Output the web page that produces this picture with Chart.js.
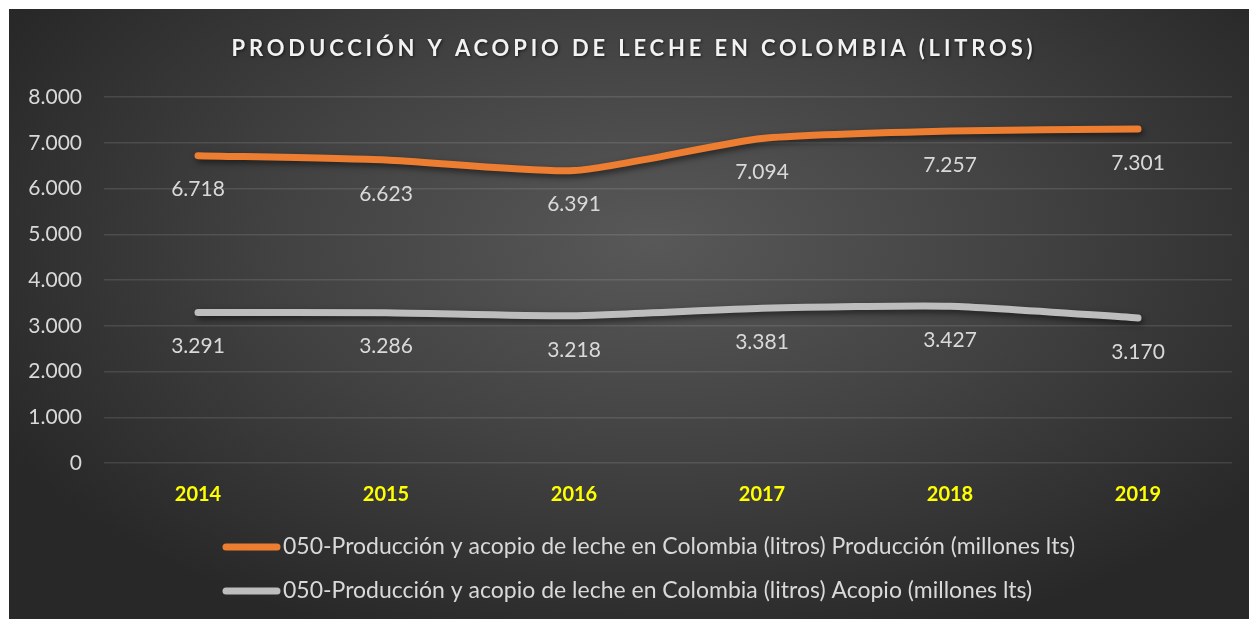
<!DOCTYPE html>
<html>
<head>
<meta charset="utf-8">
<script src="https://cdn.jsdelivr.net/npm/chart.js@4.4.0/dist/chart.umd.min.js"></script>
<style>
  html, body { margin: 0; padding: 0; background: #ffffff; }
  #wrap {
    position: absolute; left: 9px; top: 9px; width: 1240px; height: 610px;
    background: radial-gradient(ellipse 60% 70% at 52% 38%, #585858 0%, #424242 50%, #282828 100%);
  }
</style>
</head>
<body>
<div id="wrap"><canvas id="milkChart"></canvas></div>
<script>
// data
const years = ['2014', '2015', '2016', '2017', '2018', '2019'];
const produccion = [6718, 6623, 6391, 7094, 7257, 7301];
const acopio = [3291, 3286, 3218, 3381, 3427, 3170];
const seriesNames = [
    '050-Producción y acopio de leche en Colombia (litros) Producción (millones lts)',
    '050-Producción y acopio de leche en Colombia (litros) Acopio (millones lts)'
];
const chartTitle = 'PRODUCCIÓN Y ACOPIO DE LECHE EN COLOMBIA (LITROS)';

const FONT = 'Lato, "Noto Sans", sans-serif';
const TEXT_COLOR = '#d9d9d9';

// 7.094 style thousands separator
function fmt(v) {
    return String(v).replace(/\B(?=(\d{3})+(?!\d))/g, '.');
}

// line shadow
const shadowPlugin = {
    id: 'lineShadow',
    beforeDatasetDraw(chart) {
        const ctx = chart.ctx;
        ctx.save();
        ctx.shadowColor = 'rgba(0,0,0,0.55)';
        ctx.shadowBlur = 6;
        ctx.shadowOffsetX = 2;
        ctx.shadowOffsetY = 3;
    },
    afterDatasetDraw(chart) {
        chart.ctx.restore();
    }
};

// values under each point
const valueLabels = {
    id: 'valueLabels',
    afterDatasetsDraw(chart) {
        const ctx = chart.ctx;
        ctx.save();
        ctx.font = '21px ' + FONT;
        ctx.fillStyle = TEXT_COLOR;
        ctx.textAlign = 'center';
        ctx.textBaseline = 'middle';
        chart.data.datasets.forEach((ds, i) => {
            chart.getDatasetMeta(i).data.forEach((pt, j) => {
                ctx.fillText(fmt(ds.data[j]), pt.x, pt.y + 34);
            });
        });
        ctx.restore();
    }
};

// title with letter spacing
const spacedTitle = {
    id: 'spacedTitle',
    afterDraw(chart) {
        const ctx = chart.ctx;
        ctx.save();
        ctx.font = 'bold 22px ' + FONT;
        ctx.letterSpacing = '3.85px';
        ctx.fillStyle = '#f2f2f2';
        ctx.textAlign = 'center';
        ctx.textBaseline = 'middle';
        ctx.shadowColor = 'rgba(0,0,0,0.6)';
        ctx.shadowBlur = 3;
        ctx.shadowOffsetX = 1;
        ctx.shadowOffsetY = 1;
        ctx.fillText(chartTitle, chart.width / 2 + 5, 40);
        ctx.restore();
    }
};

// two-row legend, both rows starting at the same x
const rowLegend = {
    id: 'rowLegend',
    afterDraw(chart) {
        const ctx = chart.ctx;
        ctx.save();
        ctx.font = '23px ' + FONT;
        ctx.textBaseline = 'middle';
        ctx.lineCap = 'round';
        const x0 = 217;
        chart.data.datasets.forEach((ds, i) => {
            const y = 538 + i * 44;
            ctx.strokeStyle = ds.borderColor;
            ctx.lineWidth = 7;
            ctx.beginPath();
            ctx.moveTo(x0, y);
            ctx.lineTo(x0 + 51, y);
            ctx.stroke();
            ctx.fillStyle = TEXT_COLOR;
            ctx.fillText(ds.label, x0 + 57, y);
        });
        ctx.restore();
    }
};

new Chart(document.getElementById('milkChart'), {
    type: 'line',
    data: {
        labels: years,
        datasets: [
            { label: seriesNames[0], data: produccion, borderColor: '#ed7d31', borderWidth: 7, tension: 0.2,
              pointRadius: 0, borderCapStyle: 'round', borderJoinStyle: 'round' },
            { label: seriesNames[1], data: acopio, borderColor: '#bdbdbd', borderWidth: 7, tension: 0.2,
              pointRadius: 0, borderCapStyle: 'round', borderJoinStyle: 'round' }
        ]
    },
    options: {
        responsive: true,
        maintainAspectRatio: false,
        animation: false,
        layout: { padding: { top: 88, right: 17, bottom: 106, left: 0 } },
        plugins: {
            legend: { display: false },
            title: { display: false },
            tooltip: { enabled: false }
        },
        scales: {
            x: {
                offset: true,
                grid: { display: false, drawTicks: false },
                border: { display: false },
                ticks: { color: '#ffff00', padding: 20, font: { family: FONT, size: 20, weight: 'bold' } },
                afterFit(scale) { scale.height = 50; }
            },
            y: {
                min: 0,
                max: 8000,
                grid: { color: 'rgba(255,255,255,0.11)', lineWidth: 1.5, drawTicks: false },
                border: { display: false },
                ticks: {
                    stepSize: 1000, color: TEXT_COLOR, padding: 22,
                    font: { family: FONT, size: 21 },
                    callback: v => fmt(v)
                },
                afterFit(scale) { scale.width = 95; }
            }
        }
    },
    plugins: [shadowPlugin, valueLabels, spacedTitle, rowLegend]
});
</script>
</body>
</html>
